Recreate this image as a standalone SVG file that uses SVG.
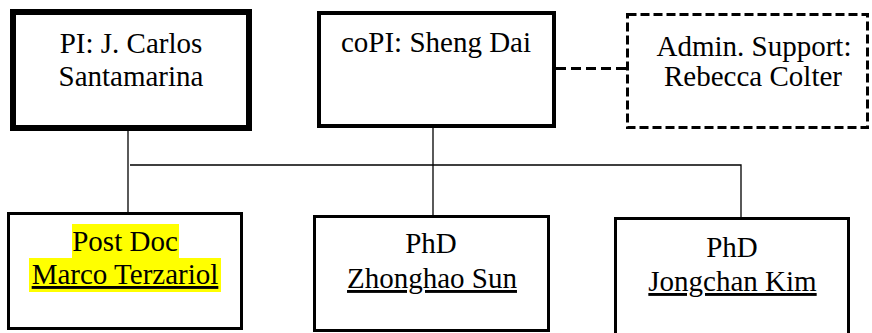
<svg xmlns="http://www.w3.org/2000/svg" width="872" height="333" viewBox="0 0 872 333">
<style>
  .box { fill: #fff; stroke: #000; }
  .t { font-family: "Liberation Serif", "Times New Roman", serif; font-size: 29px; fill: #000; text-anchor: middle; }
  .u { text-decoration: underline; }
  .conn { stroke: #000; stroke-width: 1.3; fill: none; }
  .hl { fill: #ffff00; }
</style>
<rect x="0" y="0" width="872" height="333" fill="#fff"/>
<g id="connectors">
  <line class="conn" x1="128" y1="131" x2="128" y2="213"/>
  <polyline class="conn" points="130,165 741,165 741,217"/>
  <line class="conn" x1="433" y1="128" x2="433" y2="215"/>
  <line x1="556" y1="68.5" x2="626" y2="68.5" stroke="#000" stroke-width="3" stroke-dasharray="10 5"/>
</g>
<g id="pi">
  <rect class="box" x="13" y="12" width="236" height="116" stroke-width="6"/>
  <text class="t" x="131" y="53">PI: J. Carlos</text>
  <text class="t" x="131" y="86">Santamarina</text>
</g>
<g id="copi">
  <rect class="box" x="319" y="13" width="235" height="113" stroke-width="4"/>
  <text class="t" x="436" y="52">coPI: Sheng Dai</text>
</g>
<g id="admin">
  <rect class="box" x="627.5" y="14.5" width="240" height="113" stroke-width="3" stroke-dasharray="9 4"/>
  <text class="t" x="754" y="56">Admin. Support:</text>
  <text class="t" x="753" y="86">Rebecca Colter</text>
</g>
<g id="postdoc">
  <rect class="box" x="8.5" y="213.5" width="233" height="115" stroke-width="3"/>
  <rect class="hl" x="72" y="224" width="107" height="34"/>
  <rect class="hl" x="29" y="258" width="192" height="34"/>
  <text class="t" x="125" y="251">Post Doc</text>
  <text class="t u" x="125" y="284">Marco Terzariol</text>
</g>
<g id="zhonghao">
  <rect class="box" x="314.5" y="216.5" width="234" height="114" stroke-width="3"/>
  <text class="t" x="431" y="253">PhD</text>
  <text class="t u" x="432" y="288">Zhonghao Sun</text>
</g>
<g id="jongchan">
  <rect class="box" x="615.5" y="218.5" width="233" height="120" stroke-width="3"/>
  <text class="t" x="732" y="257">PhD</text>
  <text class="t u" x="732.5" y="291">Jongchan Kim</text>
</g>
</svg>
